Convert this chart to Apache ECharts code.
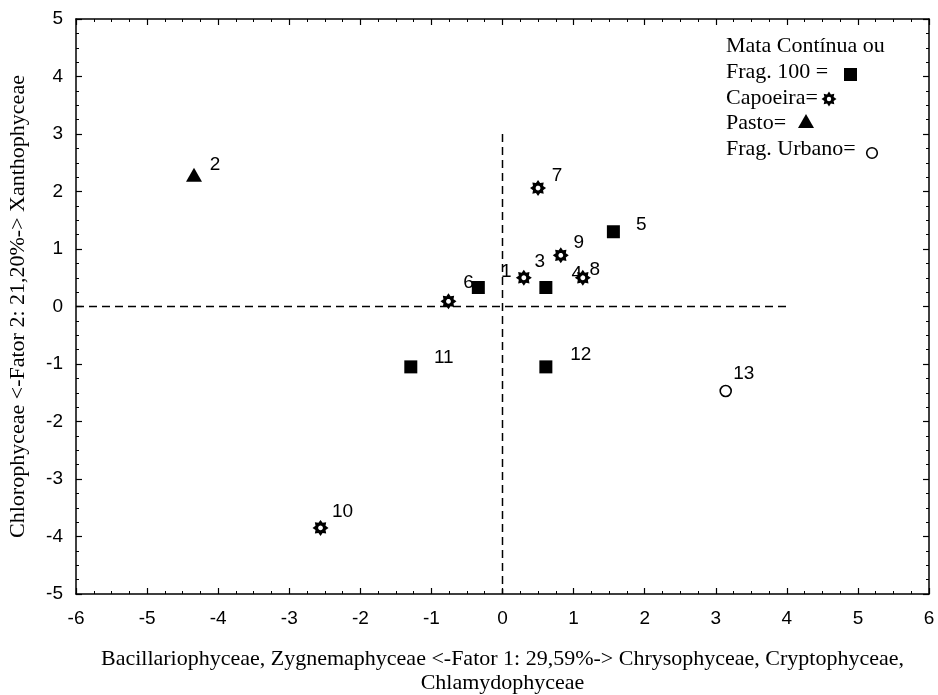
<!DOCTYPE html>
<html>
<head>
<meta charset="utf-8">
<script src="https://cdn.jsdelivr.net/npm/echarts@6/dist/echarts.min.js"></script>
<style>
  html, body { margin: 0; padding: 0; background: #fff; }
  #chart { width: 938px; height: 695px; }
</style>
</head>
<body>
<div id="chart"></div>
<script>
// Site scores on the first two factors
const siteIds  = ['1', '2', '3', '4', '5', '6', '7', '8', '9', '10', '11', '12', '13'];
const factor1  = [-0.34, -4.34, 0.30, 0.61, 1.56, -0.76, 0.50, 1.13, 0.82, -2.56, -1.29, 0.61, 3.14];
const factor2  = [0.33, 2.29, 0.50, 0.33, 1.30, 0.09, 2.06, 0.50, 0.89, -3.85, -1.05, -1.05, -1.47];
const siteType = ['mata', 'pasto', 'capoeira', 'mata', 'mata', 'capoeira', 'capoeira',
                  'capoeira', 'capoeira', 'capoeira', 'mata', 'mata', 'urbano'];

// Axis ranges and tick labels
const xTicks = [-6, -5, -4, -3, -2, -1, 0, 1, 2, 3, 4, 5, 6];
const yTicks = [-5, -4, -3, -2, -1, 0, 1, 2, 3, 4, 5];

// Dashed reference lines through the origin
const refVertical   = [[0, 3], [0, -5]];
const refHorizontal = [[-6, 0], [4, 0]];

const xTitle = 'Bacillariophyceae, Zygnemaphyceae <-Fator 1: 29,59%-> Chrysophyceae, Cryptophyceae,\nChlamydophyceae';
const yTitle = 'Chlorophyceae <-Fator 2: 21,20%-> Xanthophyceae';

const legendLines = ['Mata Contínua ou', 'Frag. 100 =', 'Capoeira=', 'Pasto=', 'Frag. Urbano='];

// ---- styling ----
const SERIF = '"Liberation Serif", "Times New Roman", serif';
const SANS = '"Liberation Sans", Arial, sans-serif';

// Gear outline: 8 teeth around a centre (cx, cy)
function gearPoints(cx, cy, rOut, rIn) {
  const pts = [];
  for (let i = 0; i < 16; i++) {
    const a = -Math.PI / 2 + i * Math.PI / 8;
    const r = i % 2 === 0 ? rOut : rIn;
    pts.push([cx + r * Math.cos(a), cy + r * Math.sin(a)]);
  }
  return pts;
}
// Gear symbol with a hollow centre (hole drawn with reversed winding)
function gearPath() {
  const pts = gearPoints(50, 50, 50, 34);
  let d = 'M' + pts.map(p => p[0].toFixed(2) + ' ' + p[1].toFixed(2)).join(' L') + ' Z';
  const hole = [];
  for (let i = 16; i > 0; i--) {
    const a = i * Math.PI / 8;
    hole.push([50 + 15 * Math.cos(a), 50 + 15 * Math.sin(a)]);
  }
  d += ' M' + hole.map(p => p[0].toFixed(2) + ' ' + p[1].toFixed(2)).join(' L') + ' Z';
  return d;
}
const GEAR = 'path://' + gearPath();

const typeStyle = {
  mata:     { symbol: 'rect', size: 13, color: '#000', border: 0 },
  capoeira: { symbol: GEAR, size: 16, color: '#000', border: 0 },
  pasto:    { symbol: 'triangle', size: [16, 14], color: '#000', border: 0 },
  urbano:   { symbol: 'circle', size: 11, color: '#fff', border: 1.6 }
};

// Label placement relative to each marker centre
const labelOffset = {
  '1': [28, -16], '2': [21, -10], '3': [16, -16], '4': [31, -14], '5': [28, -7],
  '6': [20, -19], '7': [19, -12], '8': [12, -8], '9': [18, -13], '10': [22, -16],
  '11': [33, -9], '12': [35, -12], '13': [18, -17]
};

function seriesFor(type) {
  const st = typeStyle[type];
  const data = [];
  siteIds.forEach((id, i) => {
    if (siteType[i] !== type) return;
    data.push({
      name: id,
      value: [factor1[i], factor2[i]],
      label: { offset: labelOffset[id] }
    });
  });
  return {
    type: 'scatter',
    name: type,
    data: data,
    symbol: st.symbol,
    symbolSize: st.size,
    symbolKeepAspect: true,
    itemStyle: { color: st.color, borderColor: '#000', borderWidth: st.border, opacity: 1 },
    label: {
      show: true, position: 'inside', formatter: '{b}',
      color: '#000', fontFamily: SANS, fontSize: 19
    },
    emphasis: { disabled: true },
    z: 5
  };
}

function refLine(points) {
  return {
    type: 'line', data: points, symbol: 'none', silent: true,
    lineStyle: { color: '#000', width: 1.5, type: [8, 5] },
    z: 2
  };
}

const axisCommon = {
  axisLine: { show: true, onZero: false, lineStyle: { color: '#000', width: 1.5 } },
  axisTick: { show: true, inside: true, length: 6, lineStyle: { color: '#000', width: 1.2 } },
  minorTick: { show: true, splitNumber: 4, length: 3, lineStyle: { color: '#000', width: 1 } },
  splitLine: { show: false },
  minorSplitLine: { show: false }
};

function xAxisDef(pos, showLabels) {
  return Object.assign({}, axisCommon, {
    type: 'value', position: pos,
    min: xTicks[0], max: xTicks[xTicks.length - 1], interval: 1,
    axisLabel: { show: showLabels, color: '#000', fontFamily: SANS, fontSize: 19, margin: 15 },
    name: showLabels ? xTitle : '',
    nameLocation: 'middle', nameGap: 53,
    nameTextStyle: { fontFamily: SERIF, fontSize: 22, color: '#000', lineHeight: 24 }
  });
}
function yAxisDef(pos, showLabels) {
  return Object.assign({}, axisCommon, {
    type: 'value', position: pos,
    min: yTicks[0], max: yTicks[yTicks.length - 1], interval: 1,
    axisLabel: { show: showLabels, color: '#000', fontFamily: SANS, fontSize: 19, margin: 13 },
    name: showLabels ? yTitle : '',
    nameLocation: 'middle', nameGap: 47, nameRotate: 90,
    nameTextStyle: { fontFamily: SERIF, fontSize: 22, color: '#000' }
  });
}

// Legend drawn as text lines followed by the marker of each group
const LX = 726;
const legendY = [46, 72, 98, 123, 149];
const legendGraphics = legendLines.map((t, i) => ({
  type: 'text', x: LX, y: legendY[i], z: 10,
  style: { text: t, font: '22px ' + SERIF, fill: '#000', textVerticalAlign: 'middle', verticalAlign: 'middle' }
}));
legendGraphics.push(
  { type: 'rect', shape: { x: 844, y: 68, width: 13, height: 13 }, style: { fill: '#000' }, z: 10 },
  { type: 'polygon', shape: { points: gearPoints(829, 99, 7.5, 5) }, style: { fill: '#000' }, z: 10 },
  { type: 'circle', shape: { cx: 829, cy: 99, r: 2.2 }, style: { fill: '#fff' }, z: 11 },
  { type: 'polygon', shape: { points: [[806, 114], [814, 128], [798, 128]] }, style: { fill: '#000' }, z: 10 },
  { type: 'circle', shape: { cx: 872, cy: 153, r: 5.3 }, style: { fill: '#fff', stroke: '#000', lineWidth: 1.6 }, z: 10 }
);

const chart = echarts.init(document.getElementById('chart'), null, { renderer: 'canvas' });
chart.setOption({
  backgroundColor: '#fff',
  animation: false,
  grid: { left: 76, right: 9, top: 19, bottom: 101, containLabel: false, outerBoundsMode: 'none' },
  xAxis: [xAxisDef('bottom', true), xAxisDef('top', false)],
  yAxis: [yAxisDef('left', true), yAxisDef('right', false)],
  graphic: legendGraphics,
  series: [
    refLine(refVertical),
    refLine(refHorizontal),
    seriesFor('mata'),
    seriesFor('capoeira'),
    seriesFor('pasto'),
    seriesFor('urbano')
  ]
});
</script>
</body>
</html>
